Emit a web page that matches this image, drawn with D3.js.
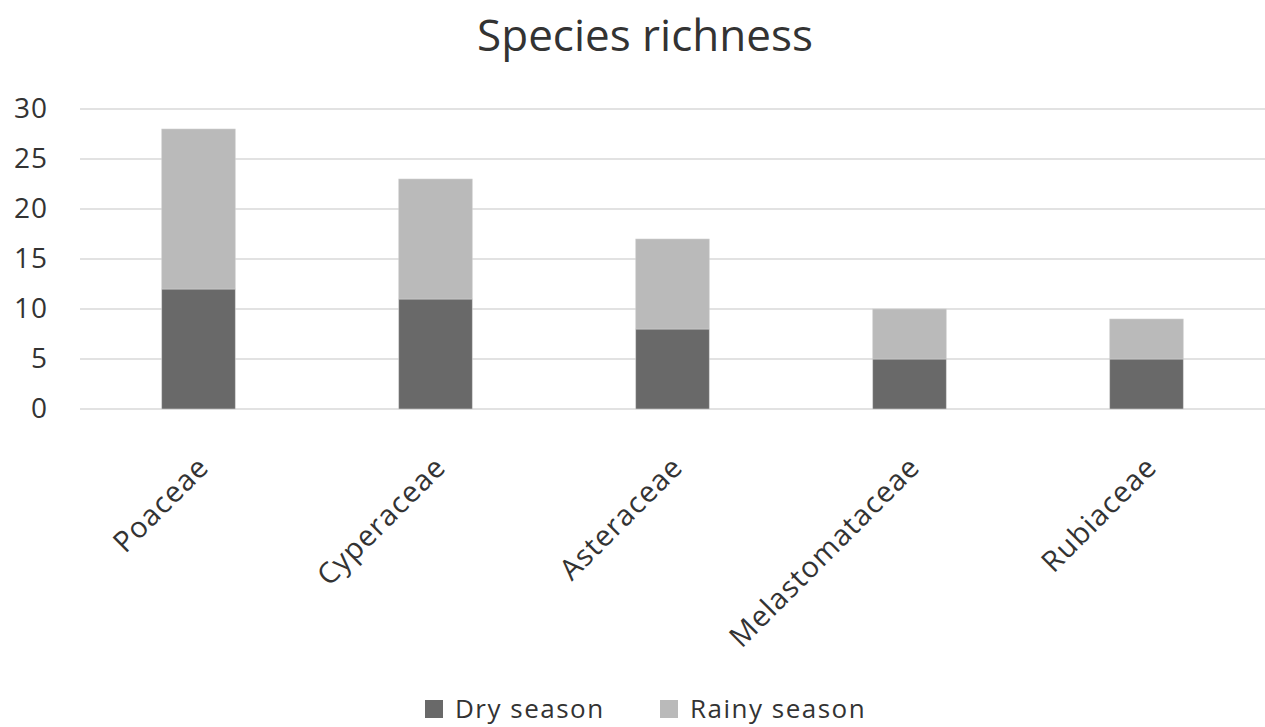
<!DOCTYPE html>
<html>
<head>
<meta charset="utf-8">
<script src="https://cdn.jsdelivr.net/npm/d3@7"></script>
<style>
  body { margin: 0; background: #fff; }
  text { font-family: "Open Sans", "DejaVu Sans", sans-serif; fill: #333; }
</style>
</head>
<body>
<div id="chart"></div>
<script>
const categories = ["Poaceae", "Cyperaceae", "Asteraceae", "Melastomataceae", "Rubiaceae"];
const drySeason = [12, 11, 8, 5, 5];
const rainySeason = [16, 12, 9, 5, 4];
const seriesNames = ["Dry season", "Rainy season"];
const yTicks = [0, 5, 10, 15, 20, 25, 30];

const dark = "#696969", light = "#bababa", grid = "#d9d9d9";

const W = 1265, H = 727;
const margin = { top: 109, right: 0, bottom: 318, left: 80 };
const width = W - margin.left - margin.right,
    height = H - margin.top - margin.bottom;

const svgRoot = d3.select("#chart").append("svg")
    .attr("width", W).attr("height", H);

svgRoot.append("text")
    .attr("x", 645).attr("y", 51)
    .attr("text-anchor", "middle")
    .style("font-size", "44px")
    .text("Species richness");

const svg = svgRoot.append("g")
    .attr("transform", `translate(${margin.left},${margin.top})`);

const x = d3.scaleBand().domain(categories).range([0, width]).paddingInner(0.69).paddingOuter(0.345);
const y = d3.scaleLinear().domain([0, 30]).range([height, 0]);

// gridlines
svg.append("g").selectAll("line").data(yTicks).join("line")
    .attr("x1", 0).attr("x2", width)
    .attr("y1", d => y(d)).attr("y2", d => y(d))
    .attr("stroke", grid).attr("stroke-width", 1.5);

// y tick labels
const yAxis = svg.append("g")
    .call(d3.axisLeft(y).tickValues(yTicks).tickSize(0).tickPadding(32));
yAxis.select(".domain").remove();
yAxis.selectAll("text")
    .style("font-size", "28px").style("font-family", "'Open Sans', sans-serif")
    .attr("fill", "#333").attr("letter-spacing", "1px");

// stacked bars
const rows = categories.map((c, i) => ({ cat: c, "Dry season": drySeason[i], "Rainy season": rainySeason[i] }));
const stack = d3.stack().keys(seriesNames)(rows);
const colors = d3.scaleOrdinal().domain(seriesNames).range([dark, light]);

svg.selectAll("g.layer").data(stack).join("g")
    .attr("class", "layer")
    .attr("fill", d => colors(d.key))
    .selectAll("rect").data(d => d).join("rect")
    .attr("x", d => x(d.data.cat))
    .attr("y", d => y(d[1]))
    .attr("width", x.bandwidth())
    .attr("height", d => y(d[0]) - y(d[1]))
    .attr("stroke", "#cfcfcf").attr("stroke-width", 0.6);

// category labels
svg.append("g").selectAll("text").data(categories).join("text")
    .attr("transform", d => `translate(${x(d) + x.bandwidth() / 2 + 12},${height + 60}) rotate(-45)`)
    .attr("text-anchor", "end")
    .attr("letter-spacing", "1px")
    .style("font-size", "29px")
    .text(d => d);

// legend
const legend = svgRoot.append("g").attr("transform", "translate(425,718)");
const items = [{ name: seriesNames[0], x: 0 }, { name: seriesNames[1], x: 235 }];
items.forEach(it => {
    legend.append("rect")
        .attr("x", it.x).attr("y", -18).attr("width", 18).attr("height", 18)
        .attr("fill", colors(it.name));
    legend.append("text")
        .attr("x", it.x + 30).attr("y", 0)
        .attr("letter-spacing", "1.5px")
        .style("font-size", "26px")
        .text(it.name);
});
</script>
</body>
</html>
